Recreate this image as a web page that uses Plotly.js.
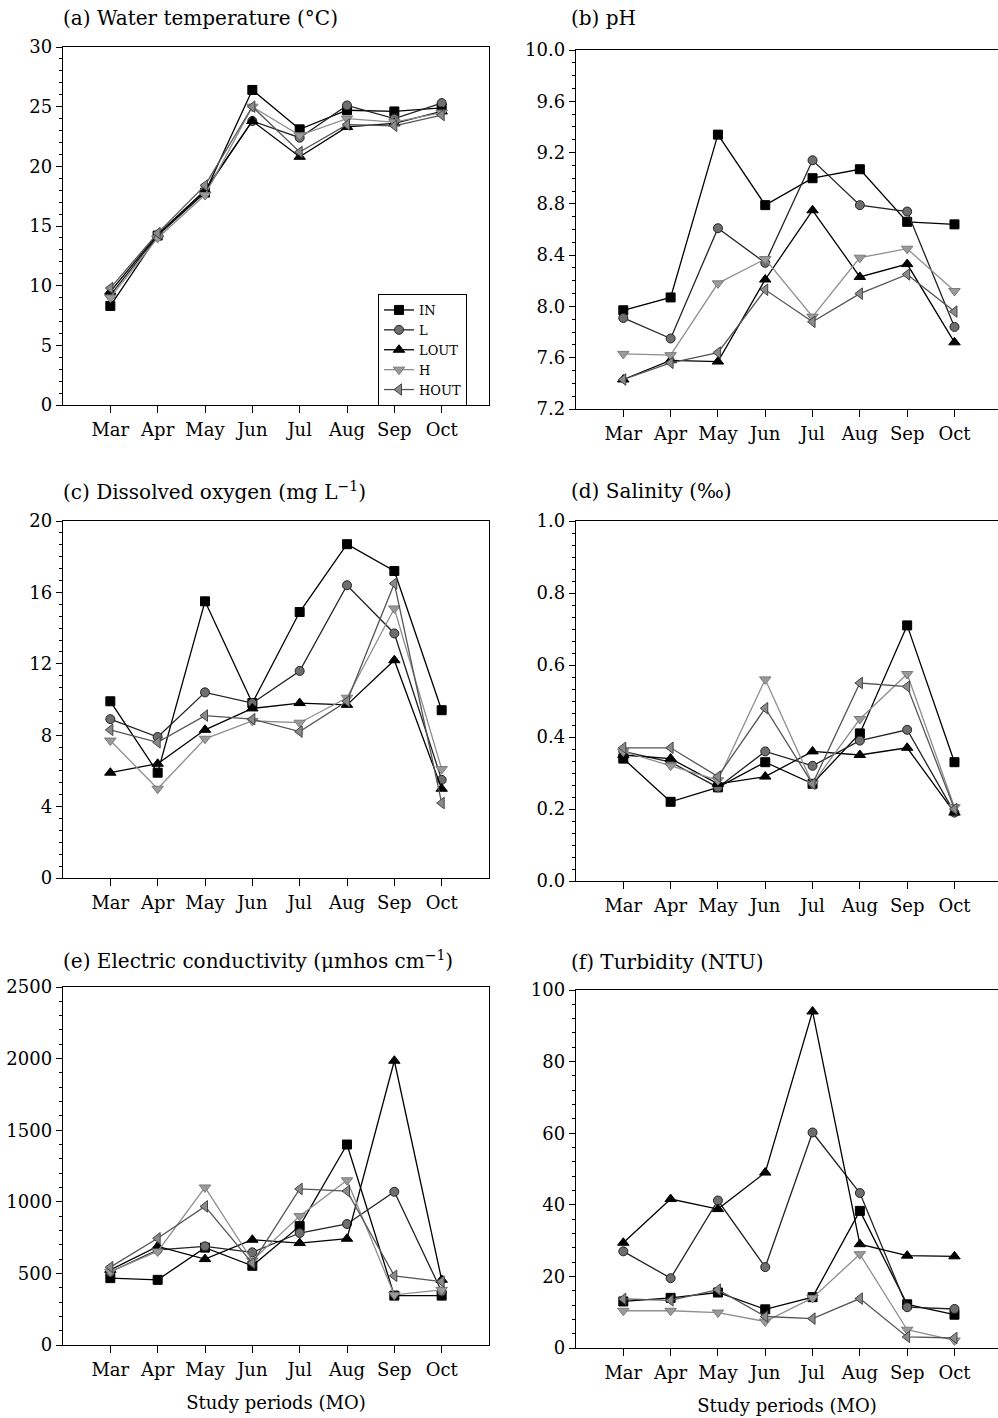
<!DOCTYPE html>
<html>
<head>
<meta charset="utf-8">
<script src="https://cdn.plot.ly/plotly-3.0.1.min.js"></script>
<style>
  html, body { margin: 0; padding: 0; background: #fff; }
  #chart { width: 998px; height: 1418px; }
</style>
</head>
<body>
<div id="chart"></div>
<script>
// ---------------- data ----------------
const months = ['Mar', 'Apr', 'May', 'Jun', 'Jul', 'Aug', 'Sep', 'Oct'];
const seriesNames = ['IN', 'L', 'LOUT', 'H', 'HOUT'];

// (a) Water temperature (°C)
const tempIN   = [8.3, 14.2, 17.8, 26.4, 23.1, 24.7, 24.6, 24.9];
const tempL    = [9.2, 14.2, 17.9, 23.8, 22.4, 25.1, 24.0, 25.3];
const tempLOUT = [9.5, 14.3, 18.0, 23.8, 20.8, 23.3, 23.6, 24.6];
const tempH    = [9.0, 14.0, 17.6, 25.0, 22.6, 24.0, 23.7, 24.5];
const tempHOUT = [9.8, 14.4, 18.4, 25.0, 21.2, 23.5, 23.4, 24.3];

// (b) pH
const phIN   = [7.97, 8.07, 9.34, 8.79, 9.00, 9.07, 8.66, 8.64];
const phL    = [7.91, 7.75, 8.61, 8.34, 9.14, 8.79, 8.74, 7.84];
const phLOUT = [7.43, 7.58, 7.57, 8.21, 8.75, 8.23, 8.33, 7.72];
const phH    = [7.63, 7.62, 8.18, 8.37, 7.92, 8.38, 8.45, 8.12];
const phHOUT = [7.43, 7.56, 7.64, 8.13, 7.88, 8.10, 8.25, 7.96];

// (c) Dissolved oxygen (mg L-1)
const doIN   = [9.9, 5.9, 15.5, 9.8, 14.9, 18.7, 17.2, 9.4];
const doL    = [8.9, 7.9, 10.4, 9.8, 11.6, 16.4, 13.7, 5.5];
const doLOUT = [5.9, 6.4, 8.3, 9.5, 9.8, 9.7, 12.2, 5.0];
const doH    = [7.7, 5.0, 7.8, 8.8, 8.7, 10.1, 15.1, 6.1];
const doHOUT = [8.3, 7.6, 9.1, 8.9, 8.2, 9.9, 16.5, 4.2];

// (d) Salinity (‰)
const salIN   = [0.34, 0.22, 0.26, 0.33, 0.27, 0.41, 0.71, 0.33];
const salL    = [0.36, 0.33, 0.26, 0.36, 0.32, 0.39, 0.42, 0.19];
const salLOUT = [0.35, 0.34, 0.27, 0.29, 0.36, 0.35, 0.37, 0.19];
const salH    = [0.36, 0.32, 0.28, 0.56, 0.27, 0.45, 0.575, 0.205];
const salHOUT = [0.37, 0.37, 0.29, 0.48, 0.27, 0.55, 0.54, 0.20];

// (e) Electric conductivity (µmhos cm-1)
const ecIN   = [467, 455, 680, 553, 830, 1400, 345, 345];
const ecL    = [510, 665, 689, 647, 782, 845, 1070, 373];
const ecLOUT = [525, 689, 600, 735, 712, 742, 1985, 455];
const ecH    = [513, 653, 1100, 590, 900, 1150, 350, 385];
const ecHOUT = [544, 745, 968, 572, 1090, 1075, 483, 443];

// (f) Turbidity (NTU)
const turIN   = [13.0, 14.0, 15.5, 10.8, 14.2, 38.3, 12.2, 9.3];
const turL    = [27.0, 19.5, 41.2, 22.6, 60.2, 43.3, 11.4, 10.9];
const turLOUT = [29.4, 41.6, 38.8, 49.0, 94.0, 29.0, 25.8, 25.6];
const turH    = [10.4, 10.4, 9.9, 7.4, 14.0, 26.2, 5.1, 2.1];
const turHOUT = [13.7, 13.3, 16.3, 8.8, 8.2, 13.8, 3.1, 2.8];

// ---------------- styling ----------------
const FONT = 'DejaVu Serif, Liberation Serif, serif';
const styles = {
  IN:   { line: '#000000', fill: '#000000', edge: '#000000', symbol: 'square',        size: 9 },
  L:    { line: '#222222', fill: '#6e6e6e', edge: '#222222', symbol: 'circle',        size: 9 },
  LOUT: { line: '#000000', fill: '#000000', edge: '#000000', symbol: 'triangle-up',   size: 10 },
  H:    { line: '#8e8e8e', fill: '#9a9a9a', edge: '#7a7a7a', symbol: 'triangle-down', size: 10 },
  HOUT: { line: '#555555', fill: '#8a8a8a', edge: '#444444', symbol: 'triangle-left', size: 10 }
};

const panels = [
  { data: [tempIN, tempL, tempLOUT, tempH, tempHOUT], range: [0, 30],   dtick: 5,   minor: 1,     fmt: 'd',   col: 0, top: 47,  bot: 405,  title: '(a) Water temperature (°C)', ty: 18 },
  { data: [phIN, phL, phLOUT, phH, phHOUT],          range: [7.2, 10], dtick: 0.4, minor: 0.1,   fmt: '.1f', col: 1, top: 50,  bot: 409,  title: '(b) pH', ty: 18 },
  { data: [doIN, doL, doLOUT, doH, doHOUT],          range: [0, 20],   dtick: 4,   minor: 4 / 6, fmt: 'd',   col: 0, top: 521, bot: 878,  title: '(c) Dissolved oxygen (mg L<sup>−1</sup>)', ty: 491 },
  { data: [salIN, salL, salLOUT, salH, salHOUT],     range: [0, 1],    dtick: 0.2, minor: 0.2 / 6, fmt: '.1f', col: 1, top: 521, bot: 881, title: '(d) Salinity (‰)', ty: 491 },
  { data: [ecIN, ecL, ecLOUT, ecH, ecHOUT],          range: [0, 2500], dtick: 500, minor: 100,   fmt: 'd',   col: 0, top: 987, bot: 1345, title: '(e) Electric conductivity (μmhos cm<sup>−1</sup>)', ty: 960 },
  { data: [turIN, turL, turLOUT, turH, turHOUT],     range: [0, 100],  dtick: 20,  minor: 4,     fmt: 'd',   col: 1, top: 990, bot: 1348, title: '(f) Turbidity (NTU)', ty: 962 }
];

const W = 998, H = 1418;
const colX = [[63 / W, 489 / W], [576 / W, 1]];
const colRange = [[-1, 8], [-1, 7.92]];
const titleX = [61, 569];

const traces = [];
const layout = {
  width: W, height: H,
  margin: { l: 0, r: 0, t: 0, b: 0 },
  paper_bgcolor: '#ffffff',
  plot_bgcolor: '#ffffff',
  font: { family: FONT, size: 18, color: '#000' },
  showlegend: true,
  legend: {
    x: 378 / W, y: 1 - 294 / H, xanchor: 'left', yanchor: 'top',
    bordercolor: '#000', borderwidth: 1, bgcolor: '#fff',
    font: { family: FONT, size: 13, color: '#000' },
    tracegroupgap: 0, itemwidth: 30
  },
  annotations: []
};

panels.forEach((p, i) => {
  const k = i === 0 ? '' : String(i + 1);
  const xa = 'xaxis' + k, ya = 'yaxis' + k;
  const bottomRow = i >= 4;
  layout[xa] = {
    domain: colX[p.col],
    anchor: 'y' + k,
    type: 'category',
    categoryorder: 'array',
    categoryarray: months,
    range: colRange[p.col],
    showline: true, linecolor: '#000', linewidth: 1.3, mirror: true,
    ticks: 'outside', ticklen: 7, tickwidth: 1, tickcolor: '#000',
    showgrid: false, zeroline: false,
    tickfont: { family: FONT, size: 18, color: '#000' },
    ticklabelstandoff: 1,
    fixedrange: true
  };
  if (bottomRow) {
    layout[xa].title = { text: 'Study periods (MO)', font: { family: FONT, size: 18, color: '#000' }, standoff: 17 };
  }
  layout[ya] = {
    domain: [1 - p.bot / H, 1 - p.top / H],
    anchor: 'x' + k,
    range: p.range,
    tick0: p.range[0], dtick: p.dtick,
    tickformat: p.fmt,
    showline: true, linecolor: '#000', linewidth: 1.3, mirror: true,
    ticks: 'outside', ticklen: 6, tickwidth: 1, tickcolor: '#000',
    minor: { dtick: p.minor, tick0: p.range[0], ticks: 'outside', ticklen: 3, tickwidth: 1, tickcolor: '#000', showgrid: false },
    showgrid: false, zeroline: false,
    tickfont: { family: FONT, size: 18, color: '#000' },
    fixedrange: true
  };
  layout.annotations.push({
    xref: 'paper', yref: 'paper',
    x: titleX[p.col] / W, y: 1 - p.ty / H,
    xanchor: 'left', yanchor: 'middle',
    text: p.title, showarrow: false,
    font: { family: FONT, size: 20, color: '#000' }
  });
  seriesNames.forEach((name, j) => {
    const s = styles[name];
    traces.push({
      type: 'scatter', mode: 'lines+markers',
      name: name,
      legendgroup: name,
      showlegend: i === 0,
      x: months, y: p.data[j],
      xaxis: 'x' + k, yaxis: 'y' + k,
      line: { color: s.line, width: 1.3 },
      marker: { symbol: s.symbol, size: s.size, color: s.fill, line: { color: s.edge, width: 1 } },
      cliponaxis: false
    });
  });
});

Plotly.newPlot('chart', traces, layout, { displayModeBar: false, staticPlot: true });
</script>
</body>
</html>
